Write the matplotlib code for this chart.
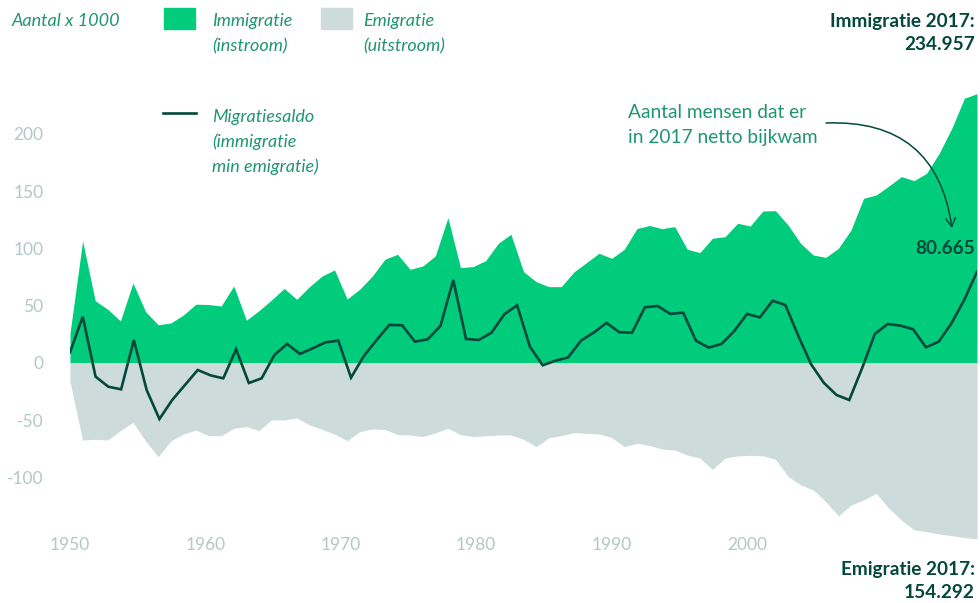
import numpy as np
import matplotlib
matplotlib.use("Agg")
import matplotlib.pyplot as plt
import matplotlib.transforms as mtransforms
from matplotlib.patches import FancyArrowPatch

plt.rcParams['font.family'] = ['Lato', 'DejaVu Sans']

# Immigratie en emigratie (x 1000), 73 jaarwaarden zoals getekend
immigratie = [25.9, 106.5, 54.3, 46.8, 36.7, 69.8, 44.8, 33.3, 34.9, 41.9,
              51.3, 51.0, 49.7, 67.2, 37.3, 45.6, 55.0, 65.1, 55.5, 66.5,
              75.8, 81.2, 55.8, 64.3, 75.9, 90.5, 94.8, 81.7, 84.6, 93.4,
              126.8, 83.2, 84.1, 89.3, 104.4, 112.3, 79.7, 71.0, 66.6, 66.6,
              79.4, 87.6, 95.7, 91.3, 99.2, 117.2, 120.0, 117.2, 119.0, 99.2,
              96.3, 108.8, 110.2, 121.9, 119.5, 132.6, 132.9, 120.4, 104.4, 94.2,
              92.2, 100.1, 116.1, 143.7, 146.6, 154.4, 162.6, 159.1, 165.5, 183.0,
              204.8, 231.0, 235.0]
emigratie = [-16.3, -67.2, -66.6, -67.2, -59.0, -52.0, -68.0, -81.7, -68.0, -62.0,
             -58.5, -63.4, -63.4, -57.0, -55.5, -59.0, -49.7, -49.7, -48.0, -54.0,
             -57.9, -62.0, -67.8, -60.0, -57.5, -58.0, -62.5, -62.8, -64.3, -61.0,
             -57.0, -62.5, -64.3, -63.5, -62.8, -62.8, -66.6, -73.0, -65.3, -63.4,
             -60.7, -61.4, -62.0, -65.0, -73.0, -70.1, -72.0, -75.0, -76.0, -80.3,
             -83.0, -92.8, -83.0, -81.0, -80.6, -81.0, -84.0, -99.0, -106.4, -110.8,
             -121.0, -133.5, -124.0, -119.5, -113.7, -126.8, -137.0, -145.7, -147.2, -149.2,
             -150.7, -152.4, -153.5]
# Migratiesaldo, 72 waarden zoals getekend
saldo = [9.3, 40.4, -11.9, -20.7, -23.0, 20.0, -23.6, -48.9, -32.3, -19.2,
         -6.1, -10.8, -13.4, 11.9, -17.5, -13.4, 7.0, 16.6, 7.9, 12.8,
         18.0, 19.5, -12.8, 6.1, 20.0, 33.2, 32.9, 18.6, 20.7, 32.3,
         72.4, 20.9, 20.1, 26.5, 42.5, 50.3, 14.3, -2.0, 2.0, 4.9,
         19.5, 26.5, 35.0, 26.8, 26.5, 48.6, 49.7, 42.8, 43.9, 19.5,
         13.4, 16.6, 27.9, 42.8, 39.8, 54.3, 50.6, 24.0, -0.9, -17.2,
         -27.9, -32.3, -4.7, 25.3, 34.0, 32.6, 29.4, 13.7, 18.6, 34.6,
         55.0, 79.7]

x_labels = [1950, 1960, 1970, 1980, 1990, 2000]
y_ticks = [-100, -50, 0, 50, 100, 150, 200]

GREEN = '#00cc7c'
GREY = '#cddbda'
DARK = '#03483b'
TXT_GREEN = '#1f9670'
TICK = '#b3c8c4'

W, H = 980, 603
fig = plt.figure(figsize=(W / 100, H / 100), dpi=100)

def fx(px):
    return px / W

def fy(py):
    return 1 - py / H

# plot area: x 70..977 px, y 82..543 px
ax = fig.add_axes([fx(70), fy(542.9), fx(977) - fx(70), fy(82.2) - fy(542.9)])

# de reeksen zijn gelijkmatig over de as 1950-2017 uitgezet
x_stroom = np.linspace(1950, 2017, len(immigratie))
x_saldo = np.linspace(1950, 2017, len(saldo))

ax.fill_between(x_stroom, 0, immigratie, color=GREEN, lw=0)
ax.fill_between(x_stroom, emigratie, 0, color=GREY, lw=0)
ax.plot(x_saldo, saldo, color=DARK, lw=1.9, solid_joinstyle='miter')

ax.set_xlim(1950, 2017)
ax.set_ylim(-157, 245)
for s in ax.spines.values():
    s.set_visible(False)
ax.set_xticks([])
ax.set_yticks(y_ticks)
ax.set_yticklabels([str(v) for v in y_ticks], color=TICK, fontsize=12.5)
ax.tick_params(axis='y', length=0, pad=19)

trans = mtransforms.blended_transform_factory(ax.transData, fig.transFigure)
for yr in x_labels:
    ax.text(yr, fy(544.5), str(yr), transform=trans, ha='center', va='center',
            color=TICK, fontsize=12.5, clip_on=False)

# legenda
it = dict(style='italic', color=TXT_GREEN, fontsize=13, va='center')
fig.text(fx(12), fy(21), 'Aantal x 1000', **it)
fig.patches.append(plt.Rectangle((fx(164), fy(29)), fx(31), 21 / H, color=GREEN,
                                 transform=fig.transFigure, figure=fig))
fig.patches.append(plt.Rectangle((fx(321), fy(29)), fx(31), 21 / H, color=GREY,
                                 transform=fig.transFigure, figure=fig))
fig.text(fx(212), fy(21), 'Immigratie', **it)
fig.text(fx(212), fy(46), '(instroom)', **it)
fig.text(fx(363), fy(21), 'Emigratie', **it)
fig.text(fx(363), fy(46), '(uitstroom)', **it)
fig.add_artist(plt.Line2D([fx(163), fx(196)], [fy(113), fy(113)], color=DARK, lw=1.9,
                          transform=fig.transFigure))
fig.text(fx(212), fy(117), 'Migratiesaldo', **it)
fig.text(fx(212), fy(142), '(immigratie', **it)
fig.text(fx(212), fy(167), 'min emigratie)', **it)

# annotaties
bold = dict(weight='bold', color=DARK, fontsize=13.7, ha='right', va='center')
fig.text(fx(975), fy(22), 'Immigratie 2017:', **bold)
fig.text(fx(975), fy(45), '234.957', **bold)
fig.text(fx(975), fy(248), '80.665', **bold)
fig.text(fx(975), fy(570), 'Emigratie 2017:', **bold)
fig.text(fx(975), fy(593), '154.292', **bold)

fig.text(fx(628), fy(113), 'Aantal mensen dat er', color=TXT_GREEN, fontsize=13.8, va='center')
fig.text(fx(628), fy(137), 'in 2017 netto bijkwam', color=TXT_GREEN, fontsize=13.8, va='center')

arrow = FancyArrowPatch((fx(826), fy(123)), (fx(952), fy(228)), transform=fig.transFigure,
                        connectionstyle='arc3,rad=-0.45', arrowstyle='->,head_length=6,head_width=3.5',
                        color=DARK, lw=1.1, shrinkA=0, shrinkB=0)
fig.patches.append(arrow)

fig.savefig('out.png', dpi=100)
